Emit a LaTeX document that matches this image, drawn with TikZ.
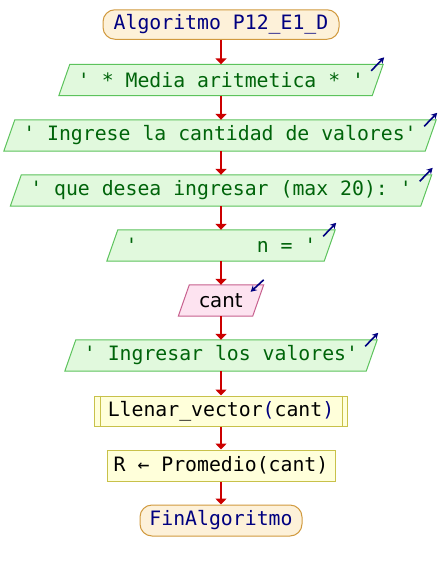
\documentclass[tikz,border=0pt]{standalone}
\usepackage{fontspec}
\setmonofont{DejaVu Sans Mono}
\newfontfamily\varsans{DejaVu Sans}
\usetikzlibrary{arrows.meta,calc,backgrounds}

\definecolor{termfill}{HTML}{FDF1D9}
\definecolor{termline}{HTML}{D19A3F}
\definecolor{navytext}{HTML}{000080}
\definecolor{outfill}{HTML}{E1F9DD}
\definecolor{outline}{HTML}{5CC35C}
\definecolor{outtext}{HTML}{00640A}
\definecolor{infill}{HTML}{FDE3F0}
\definecolor{inline}{HTML}{C7608E}
\definecolor{procfill}{HTML}{FFFFDA}
\definecolor{procline}{HTML}{C8C14A}
\definecolor{flowred}{HTML}{CC0000}

\tikzset{
  x=1pt, y=-1pt,
  every node/.style={inner sep=0pt, font=\fontsize{19.8}{24}\selectfont\ttfamily},
  terminal/.style={draw=termline, fill=termfill, line width=1pt,
    rounded corners=12pt, text=navytext, minimum height=29.5pt},
  outbox/.style={minimum height=31pt, text=outtext},
  inbox/.style={minimum height=31pt, text=black, font=\fontsize{19.8}{24}\selectfont\varsans},
  outshape/.style={fill=outfill, draw=outline, line width=1pt},
  inshape/.style={fill=infill, draw=inline, line width=1pt},
  procbox/.style={draw=procline, fill=procfill, line width=1pt,
    minimum height=31pt, text=black},
  subline/.style={draw=procline, line width=1pt},
  flow/.style={draw=flowred, line width=2pt,
    -{Triangle[width=11pt,length=6pt]}},
  ioicon/.style={draw=navytext, line width=1.6pt,
    -{Stealth[length=6pt,width=6.5pt]}}
}

% slanted data box drawn behind a node of the mid width
\newcommand\slantbox[2]{%
  \begin{scope}[on background layer]
    \path[#2] ($(#1.north west)+(5.5,0)$) -- ($(#1.north east)+(5.5,0)$)
      -- ($(#1.south east)+(-5.5,0)$) -- ($(#1.south west)+(-5.5,0)$) -- cycle;
  \end{scope}}
% output marker at the upper right corner
\newcommand\outmark[1]{%
  \draw[ioicon] ($(#1.north east)+(5.5,0)+(-12,6.5)$) -- ++(13,-13.5);}
% input marker at the upper right corner
\newcommand\inmark[1]{%
  \draw[ioicon] ($(#1.north east)+(5.5,0)+(0,-5)$) -- ++(-13,12);}

\begin{document}
\begin{tikzpicture}
  \begin{scope}[on background layer]
    \fill[white] (0,0) rectangle (440,570);
  \end{scope}
  \useasboundingbox (0,0) rectangle (440,570);

  \node[terminal, minimum width=236pt] (start) at (221,24.5) {Algoritmo P12\_E1\_D};
  \node[outbox, minimum width=313pt] (o1) at (221,80) {' * Media aritmetica * '};
  \node[outbox, minimum width=421pt] (o2) at (220,135.5) {' Ingrese la cantidad de valores'};
  \node[outbox, minimum width=410pt] (o3) at (221,190.5) {' que desea ingresar (max 20): '};
  \node[outbox, minimum width=217pt] (o4) at (221,245.5) {'~~~~~~~~~~n = '};
  \node[inbox, minimum width=74pt] (in) at (221,300.5) {cant};
  \node[outbox, minimum width=301pt] (o5) at (221,355.5) {' Ingresar los valores'};
  \node[procbox, minimum width=253pt, minimum height=30pt] (sub) at (221,411)
    {Llenar\_vector\textcolor{navytext}{(}cant\textcolor{navytext}{)}};
  \node[procbox, minimum width=228pt] (proc) at (221,465.5) {R ← Promedio(cant)};
  \node[terminal, minimum width=162pt, minimum height=31pt] (end) at (221,520.5) {FinAlgoritmo};

  \slantbox{o1}{outshape}
  \slantbox{o2}{outshape}
  \slantbox{o3}{outshape}
  \slantbox{o4}{outshape}
  \slantbox{in}{inshape}
  \slantbox{o5}{outshape}

  \draw[subline] ($(sub.north west)+(6,0)$) -- ($(sub.south west)+(6,0)$);
  \draw[subline] ($(sub.north east)+(-6,0)$) -- ($(sub.south east)+(-6,0)$);

  \outmark{o1}
  \outmark{o2}
  \outmark{o3}
  \outmark{o4}
  \inmark{in}
  \outmark{o5}

  \draw[flow] (start) -- (start.south |- o1.north);
  \draw[flow] (o1) -- (o1.south |- o2.north);
  \draw[flow] (o2.south -| o1.south) -- (o1.south |- o3.north);
  \draw[flow] (o3) -- (o3.south |- o4.north);
  \draw[flow] (o4) -- (o4.south |- in.north);
  \draw[flow] (in) -- (in.south |- o5.north);
  \draw[flow] (o5) -- (o5.south |- sub.north);
  \draw[flow] (sub) -- (sub.south |- proc.north);
  \draw[flow] (proc) -- (proc.south |- end.north);
\end{tikzpicture}
\end{document}
